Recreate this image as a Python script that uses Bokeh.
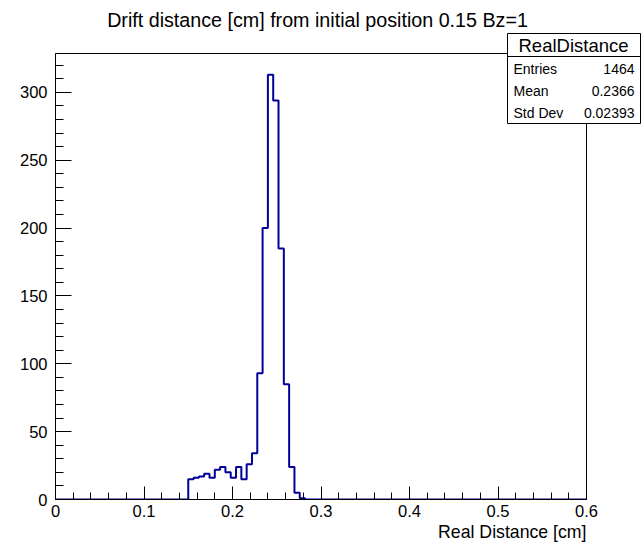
from bokeh.plotting import figure
from bokeh.models import FixedTicker, Range1d, Title
from bokeh.core.properties import value
from bokeh.embed import file_html
from bokeh.resources import INLINE
import numpy as np

# ---- data ----
title_text = "Drift distance [cm] from initial position 0.15 Bz=1"
x_label = "Real Distance [cm]"
n_bins = 100
x_min, x_max = 0.0, 0.6
counts = ([0] * 25 +
          [15, 16, 17, 19, 16, 22, 24, 20, 16, 24, 15, 26, 34,
           93, 200, 313, 294, 185, 85, 24, 5, 1] +
          [0] * 53)
x_ticks = [0, 0.1, 0.2, 0.3, 0.4, 0.5, 0.6]
x_tick_labels = ["0", "0.1", "0.2", "0.3", "0.4", "0.5", "0.6"]
y_ticks = [0, 50, 100, 150, 200, 250, 300]
stat_name = "RealDistance"
stat_rows = ["Entries", "Mean", "Std Dev"]
stat_vals = ["1464", "0.2366", "0.02393"]

FONT = "Liberation Sans"
W, H = 641, 546
FL, FR, FT, FB = 55, 586, 53, 499   # frame edges in page pixels

edges = np.linspace(x_min, x_max, n_bins + 1)
xs, ys = [edges[0]], [0]
for i, c in enumerate(counts):
    xs += [edges[i], edges[i + 1]]
    ys += [c, c]
xs.append(edges[-1]); ys.append(0)

ymax = 1.05 * max(counts)

p = figure(width=W, height=H, output_backend="svg", toolbar_location=None,
           x_range=Range1d(x_min, x_max), y_range=Range1d(0, ymax),
           min_border_left=FL, min_border_right=W - FR, min_border_top=FT,
           min_border_bottom=H - FB)
p.grid.visible = False
p.background_fill_color = "white"
p.border_fill_color = "white"
p.outline_line_color = "black"
p.outline_line_width = 1

p.line(xs, ys, line_color="#000099", line_width=2)

# x axis title, right aligned under the axis
p.add_layout(Title(text=x_label, align="right", text_font=FONT, text_font_size="17.7px",
                   text_font_style="normal", text_color="black", standoff=0), "below")

# axes
xa = p.xaxis[0]
xa.ticker = FixedTicker(ticks=x_ticks, minor_ticks=list(np.round(np.arange(0, 0.6001, 0.02), 4)))
xa.major_label_overrides = {t: l for t, l in zip(x_ticks, x_tick_labels)}
xa.major_tick_in = 13
xa.major_tick_out = 0
xa.minor_tick_in = 7
xa.minor_tick_out = 0
xa.major_label_standoff = 5
ya = p.yaxis[0]
ya.ticker = FixedTicker(ticks=y_ticks, minor_ticks=list(range(0, 330, 10)))
ya.major_tick_in = 16
ya.major_tick_out = 0
ya.minor_tick_in = 8
ya.minor_tick_out = 0
ya.major_label_standoff = 8
for ax in (xa, ya):
    ax.axis_line_color = "black"
    ax.major_tick_line_color = "black"
    ax.minor_tick_line_color = "black"
    ax.major_label_text_font = FONT
    ax.major_label_text_font_size = "16.5px"
    ax.major_label_text_color = "black"

# page pixel -> data coordinates (for texts and the statistics box outside the frame)
def xd(px):
    return x_min + (px - FL) / (FR - FL) * (x_max - x_min)
def yd(py):
    return (FB - py) / (FB - FT) * ymax

# main title
p.text(x=[xd(317)], y=[yd(19)], text=[title_text], text_align="center",
       text_baseline="middle", text_font=value(FONT), text_font_size="19.7px",
       text_color="black", level="overlay")

# statistics box
box_l, box_r, box_t, box_sep, box_b = 507, 640, 33, 56, 123
p.quad(left=[xd(box_l)], right=[xd(box_r)], top=[yd(box_t)], bottom=[yd(box_b)],
       fill_color="white", line_color="black", line_width=1, level="overlay")
p.segment(x0=[xd(box_l)], x1=[xd(box_r)], y0=[yd(box_sep)], y1=[yd(box_sep)],
          line_color="black", line_width=1, level="overlay")
p.text(x=[xd(573)], y=[yd(45)], text=[stat_name], text_align="center",
       text_baseline="middle", text_font=value(FONT), text_font_size="18.5px",
       text_color="black", level="overlay")
row_y = [yd(68 + 22 * i) for i in range(len(stat_rows))]
p.text(x=[xd(513)] * 3, y=row_y, text=stat_rows, text_align="left",
       text_baseline="middle", text_font=value(FONT), text_font_size="14px",
       text_color="black", level="overlay")
p.text(x=[xd(634)] * 3, y=row_y, text=stat_vals, text_align="right",
       text_baseline="middle", text_font=value(FONT), text_font_size="14px",
       text_color="black", level="overlay")

open("out.html", "w").write(file_html(p, INLINE))
